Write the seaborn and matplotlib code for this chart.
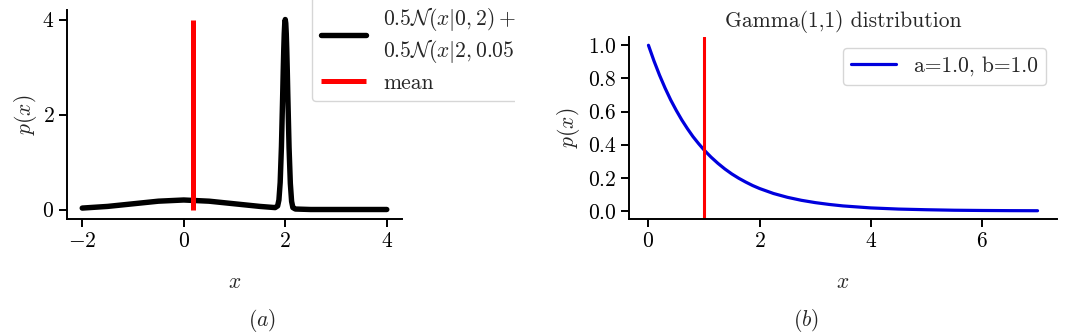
import numpy as np
import pandas as pd
import matplotlib
matplotlib.use("Agg")
import matplotlib.pyplot as plt
from matplotlib.patches import Rectangle
import seaborn as sns

# ---- data ----
mix_x = [-2.0, -1.5, -1.0, -0.5, 0.0, 0.5, 1.0, 1.5, 1.8, 1.85, 1.875, 1.9, 1.925, 1.95,
         1.96, 1.97, 1.98, 1.99, 2.0, 2.01, 2.02, 2.03, 2.04, 2.05, 2.075, 2.1, 2.125,
         2.15, 2.2, 2.5, 3.0, 3.5, 4.0]
mix_y = [0.03, 0.065, 0.12, 0.175, 0.2, 0.175, 0.12, 0.065, 0.04, 0.075, 0.2, 0.57, 1.33,
         2.44, 2.92, 3.35, 3.7, 3.92, 4.0, 3.92, 3.7, 3.35, 2.92, 2.42, 1.3, 0.55, 0.17,
         0.04, 0.01, 0.0, 0.0, 0.0, 0.0]
mix_mean = 0.19
mix_mean_top = 4.0

gam_x = [0.0, 0.1, 0.2, 0.3, 0.4, 0.5, 0.6, 0.7, 0.8, 0.9, 1.0, 1.125, 1.25, 1.375, 1.5,
         1.625, 1.75, 1.875, 2.0, 2.25, 2.5, 2.75, 3.0, 3.25, 3.5, 4.0, 4.5, 5.0, 5.5,
         6.0, 6.5, 7.0]
gam_y = [1.0, 0.905, 0.819, 0.741, 0.670, 0.607, 0.549, 0.497, 0.449, 0.407, 0.368, 0.325,
         0.287, 0.253, 0.223, 0.197, 0.174, 0.153, 0.135, 0.105, 0.082, 0.064, 0.050,
         0.039, 0.030, 0.018, 0.011, 0.007, 0.004, 0.0025, 0.0015, 0.001]
gam_mean = 1.0

mix_label = "$0.5\\mathcal{N}(x|0,2)+$\n$0.5\\mathcal{N}(x|2,0.05)$"
mean_label = "mean"
gam_label = "a=1.0, b=1.0"
gam_title = "Gamma(1,1) distribution"
captions = ["$\\mathit{(a)}$", "$\\mathit{(b)}$"]

sns.set_style("ticks")
plt.rcParams["font.family"] = "serif"
plt.rcParams["font.serif"] = ["cmr10"]
plt.rcParams["mathtext.fontset"] = "cm"
plt.rcParams["axes.formatter.use_mathtext"] = True
plt.rcParams["axes.unicode_minus"] = True
FS = 15.5
plt.rcParams["font.size"] = FS
plt.rcParams["axes.linewidth"] = 1.4
plt.rcParams["xtick.major.width"] = 1.4
plt.rcParams["ytick.major.width"] = 1.4
plt.rcParams["xtick.major.size"] = 5.5
plt.rcParams["ytick.major.size"] = 5.5
plt.rcParams["xtick.color"] = "black"
plt.rcParams["ytick.color"] = "black"
plt.rcParams["axes.edgecolor"] = "black"

W, H = 1079, 335
fig = plt.figure(figsize=(W / 100, H / 100), dpi=100)

def px_axes(l, t, r, b):
    return fig.add_axes([l / W, 1 - b / H, (r - l) / W, (b - t) / H])

# ---- left panel ----
ax1 = px_axes(67, 10, 402, 219)
df1 = pd.DataFrame({"x": mix_x, "y": mix_y})
sns.lineplot(data=df1, x="x", y="y", ax=ax1, color="black", lw=3.9, label=mix_label)
ax1.vlines(mix_mean, 0, mix_mean_top, color="red", lw=3.6, label=mean_label)
ax1.set_xticks([-2, 0, 2, 4])
ax1.set_yticks([0, 2, 4])
ax1.set_xlabel("$x$", fontsize=FS)
ax1.set_ylabel("$p(x)$", fontsize=FS)
ax1.xaxis.set_label_coords(0.5, -0.255)
ax1.yaxis.set_label_coords(-0.085, 0.5)
ax1.tick_params(labelsize=FS)
sns.despine(ax=ax1)
leg1 = ax1.legend(loc="upper left", bbox_to_anchor=(312 / W, 1.0 + 4 / H),
                  bbox_transform=fig.transFigure, fontsize=FS, handlelength=2.1,
                  borderaxespad=0, labelspacing=0.4)

# ---- right panel ----
ax2 = px_axes(629, 37, 1057, 219)
df2 = pd.DataFrame({"x": gam_x, "y": gam_y})
sns.lineplot(data=df2, x="x", y="y", ax=ax2, color="#0000dd", lw=2.3, label=gam_label)
ax2.axvline(gam_mean, color="red", lw=2.2)
ax2.set_xticks([0, 2, 4, 6])
ax2.set_yticks([0.0, 0.2, 0.4, 0.6, 0.8, 1.0])
ax2.set_xlabel("$x$", fontsize=FS)
ax2.set_ylabel("$p(x)$", fontsize=FS)
ax2.xaxis.set_label_coords(0.5, -0.295)
ax2.yaxis.set_label_coords(-0.11, 0.5)
ax2.set_title(gam_title, fontsize=FS, pad=7)
ax2.tick_params(labelsize=FS)
sns.despine(ax=ax2)
ax2.legend(loc="upper right", fontsize=FS, handlelength=2.1)

# clip the left legend the way the reference image is cropped
fig.add_artist(Rectangle((515 / W, 0.6), 25 / W, 0.4, transform=fig.transFigure,
                         facecolor="white", edgecolor="none", zorder=10))

fig.text(262 / W, 1 - 321 / H, captions[0], ha="center", va="center", fontsize=FS)
fig.text(806 / W, 1 - 321 / H, captions[1], ha="center", va="center", fontsize=FS)

fig.savefig("out.png", dpi=100)
